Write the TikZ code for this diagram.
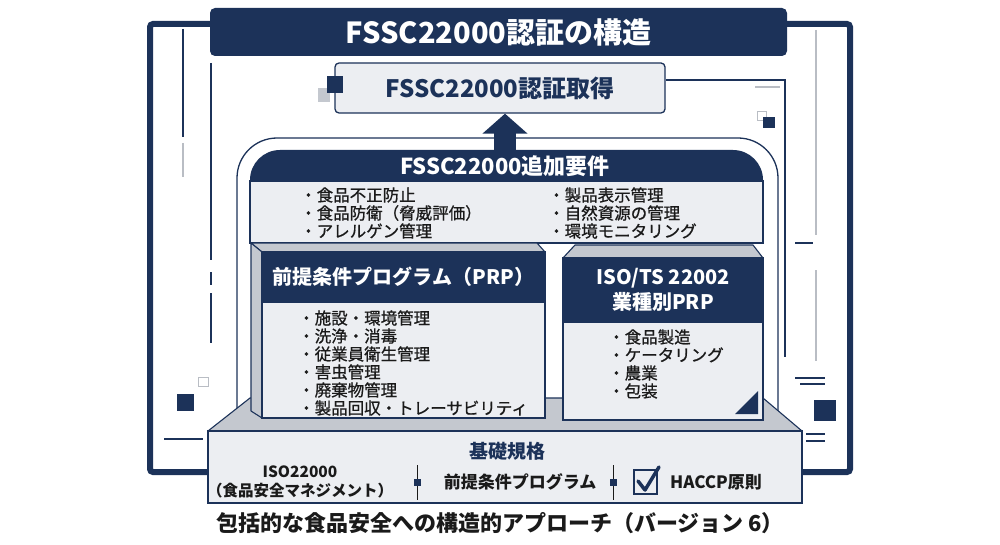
\documentclass[tikz,border=0pt]{standalone}
\usepackage{fontspec}
\setmainfont{Noto Sans CJK JP}
\newfontfamily\medfont[FakeBold=0.8]{Noto Sans CJK JP}
\usepackage{xcolor}
\usepackage{tikz}
\usetikzlibrary{arrows.meta,calc,positioning}
\definecolor{navy}{HTML}{1C3259}
\definecolor{paper}{HTML}{ECEEF2}
\definecolor{bevel}{HTML}{C4C8CF}
\definecolor{deco}{HTML}{B9BDC4}
\definecolor{ink}{HTML}{1A1A1A}

\begin{document}
\begin{tikzpicture}%[x=1pt,y=1pt]
    [   x=1pt, y=-1pt,
        > = {Triangle[width=44pt,length=20pt]},
        navyhead/.style={fill=navy, text=white, inner sep=0pt,
            font=\bfseries\fontsize{20}{25}\selectfont},
        lightbox/.style={fill=paper, draw=navy, line width=1.3pt, inner sep=0pt},
        bevelface/.style={fill=bevel, draw=navy, line width=1.1pt, line join=round},
        items/.style={anchor=west, align=left, text=ink, inner sep=0pt,
            font=\medfont\fontsize{16.5}{18}\selectfont},
        basetext/.style={text=ink, inner sep=0pt, align=center},
        decoline/.style={navy, line width=1.3pt},
        grayline/.style={deco, line width=1.3pt}
    ]
    \useasboundingbox (0,0) rectangle (1000,545);
    % Frame
    \draw[navy, line width=6pt, rounded corners=3pt] (150,24) rectangle (850,472);
    % Decorations left
    \draw[decoline] (183,29) -- (183,137);
    \draw[grayline] (183,143) -- (183,177);
    \draw[decoline] (211,63) -- (211,260);
    \draw[decoline] (211,272) -- (211,285);
    \draw[decoline] (211,293) -- (211,343);
    \draw[deco, line width=1pt] (198,377) rectangle (208,386);
    \fill[navy] (177,394) rectangle (194,411);
    \draw[decoline] (164,439) -- (203,439);
    % Decorations right
    \draw[grayline] (755,87) -- (780,87);
    \draw[grayline] (816,30) -- (816,235);
    \draw[decoline] (795,243) -- (813,243);
    \draw[grayline] (816,270) -- (816,361);
    \draw[decoline] (795,378) -- (825,378);
    \draw[decoline] (800,384) -- (825,384);
    \fill[navy] (814,400) rectangle (836,421);
    \draw[decoline] (806,434) -- (825,434);
    \draw[decoline] (806,441) -- (825,441);
    \draw[deco, line width=1pt] (757,112) rectangle (766,121);
    \fill[navy] (763,117) rectangle (775,128);
    % Title
    \node[navyhead, rounded corners=5pt, minimum width=577pt, minimum height=48pt,
        font=\bfseries\fontsize{29}{34}\selectfont] (title) at (498.5,32) {FSSC22000認証の構造};
    % Certification
    \fill[bevel] (318,88) rectangle (330,102);
    \node[lightbox, rounded corners=4pt, minimum width=330pt, minimum height=50pt,
        text=navy, font=\bfseries\fontsize{24}{28}\selectfont] (get) at (500,88) {FSSC22000認証取得};
    \fill[navy] (327,76) rectangle (343,93);
    \draw[decoline] (get.east |- 0,80) -- (785,80) -- (785,357);
    % Additional requirements
    \draw[navy, line width=1.3pt, fill=white, rounded corners=40pt]
        (237,432) -- (237,138) -- (778,138) -- (778,432);
    \fill[navy, rounded corners=30pt] (250,186) -- (250,150) -- (763,150) -- (763,186);
    \node[text=white, inner sep=2pt, font=\bfseries\fontsize{22}{26}\selectfont]
        (addlhead) at (505,166) {FSSC22000追加要件};
    \node[lightbox, minimum width=513pt, minimum height=62pt] (addlbody) at (506.5,212) {};
    \node[items] (addlleft) at (300,213) {・食品不正防止\\・食品防衛（脅威評価）\\・アレルゲン管理};
    \node[items] (addlright) at (548,213) {・製品表示管理\\・自然資源の管理\\・環境モニタリング};
    \draw[navy, line width=22pt, ->] (addlhead.north) -- (addlhead.north |- get.south);
    % Base bevel
    \draw[bevelface] (208,431) -- (250,398) -- (763,398) -- (802,431) -- cycle;
    % PRP
    \draw[bevelface] (251,243) -- (537,243) -- (545,252) -- (262,252) -- cycle;
    \draw[bevelface] (251,243) -- (262,252) -- (262,418) -- (251,411) -- cycle;
    \node[navyhead, minimum width=283pt, minimum height=50pt] (prphead) at (403.5,277)
        {前提条件プログラム（PRP）};
    \node[lightbox, minimum width=283pt, minimum height=116pt] (prpbody) at (403.5,360) {};
    \draw[navy, line width=1.3pt] (prphead.north west) rectangle (prpbody.south east);
    \node[items] (prpitems) at (298,363)
        {・施設・環境管理\\・洗浄・消毒\\・従業員衛生管理\\・害虫管理\\・廃棄物管理\\・製品回収・トレーサビリティ};
    % ISO/TS 22002
    \draw[bevelface] (563,258) -- (575,245) -- (753,245) -- (763,258) -- cycle;
    \node[navyhead, align=center, minimum width=200pt, minimum height=64pt] (isohead) at (663,290)
        {ISO/TS 22002\\業種別PRP};
    \node[lightbox, minimum width=200pt, minimum height=98pt] (isobody) at (663,371) {};
    \draw[navy, line width=1.3pt] (isohead.north west) rectangle (isobody.south east);
    \node[items] (isoitems) at (608,364) {・食品製造\\・ケータリング\\・農業\\・包装};
    \fill[navy] (735,414) -- (758,414) -- (758,391) -- cycle;
    % Base
    \node[lightbox, line width=1.5pt, minimum width=594pt, minimum height=72pt] (base) at (505,467) {};
    \node[text=navy, inner sep=0pt, font=\bfseries\fontsize{19}{22}\selectfont] (basehead) at (507,451) {基礎規格};
    \node[basetext, font=\bfseries\fontsize{15.5}{19}\selectfont] (iso22000) at (300,482)
        {ISO22000\\（食品安全マネジメント）};
    \node[basetext, font=\bfseries\fontsize{17}{20}\selectfont] (prpbase) at (520,482) {前提条件プログラム};
    \node[basetext, font=\bfseries\fontsize{17}{20}\selectfont] (haccp) at (716,482) {HACCP原則};
    \draw[ink, line width=0.8pt] (417,465) -- (417,500);
    \fill[navy] (413.5,478.5) rectangle (420.5,485.5);
    \draw[ink, line width=0.8pt] (613,465) -- (613,500);
    \fill[navy] (609.5,478.5) rectangle (616.5,485.5);
    \draw[navy, line width=2.2pt] (634,470) rectangle (657,494);
    \draw[navy, line width=3.5pt, line cap=round, line join=round] (638,481) -- (645,490) -- (659,467);
    % Caption
    \node[text=ink, inner sep=0pt, font=\bfseries\fontsize{22}{26}\selectfont] (caption) at (500,523)
        {包括的な食品安全への構造的アプローチ（バージョン 6）};
\end{tikzpicture}
\end{document}
